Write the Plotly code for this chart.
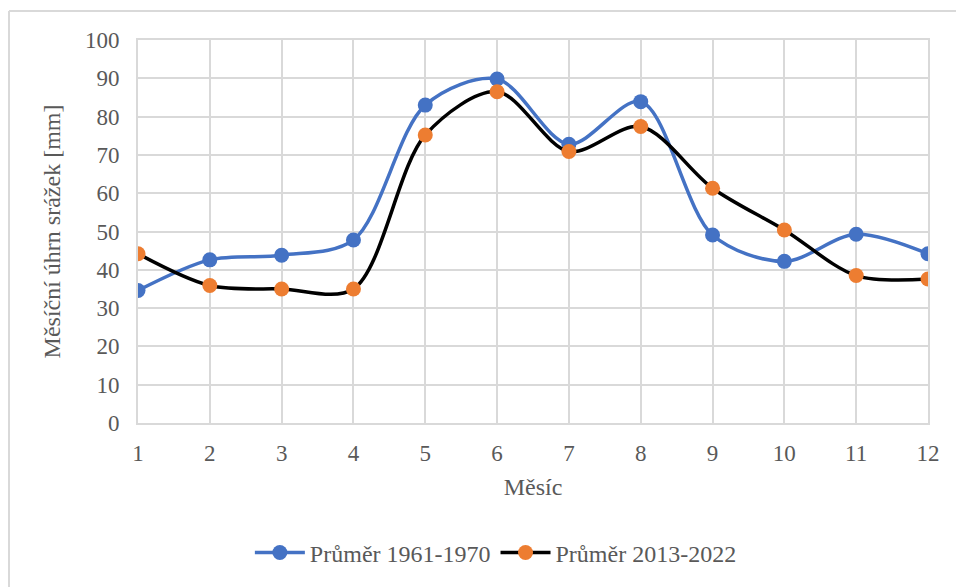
import plotly.graph_objects as go

# Monthly precipitation totals [mm]
months = [1, 2, 3, 4, 5, 6, 7, 8, 9, 10, 11, 12]
avg_1961_1970 = [34.6, 42.6, 43.8, 47.8, 83.0, 89.8, 72.8, 83.9, 49.1, 42.2, 49.3, 44.2]
avg_2013_2022 = [44.2, 35.9, 35.0, 35.0, 75.2, 86.5, 70.9, 77.4, 61.3, 50.4, 38.5, 37.6]

name_a = "Průměr 1961-1970"
name_b = "Průměr 2013-2022"

font_family = "Liberation Serif, Times New Roman, serif"
text_color = "#595959"
grid_color = "#d9d9d9"

fig = go.Figure()
fig.add_trace(go.Scatter(
    x=months, y=avg_1961_1970, name=name_a, mode="lines+markers",
    line=dict(color="#4472C4", width=3.5, shape="spline", smoothing=0.9),
    marker=dict(color="#4472C4", size=15),
))
fig.add_trace(go.Scatter(
    x=months, y=avg_2013_2022, name=name_b, mode="lines+markers",
    line=dict(color="#000000", width=3.5, shape="spline", smoothing=0.9),
    marker=dict(color="#ED7D31", size=15),
))

# light chart-area frame (top and left edges)
fig.add_shape(type="line", xref="paper", yref="paper", x0=-0.1633, x1=1.2, y0=1.0757, y1=1.0757,
              line=dict(color=grid_color, width=2))
fig.add_shape(type="line", xref="paper", yref="paper", x0=-0.1633, x1=-0.1633, y0=1.0757, y1=-0.7,
              line=dict(color=grid_color, width=2))

fig.update_layout(
    width=956, height=587,
    margin=dict(l=138, r=28, t=40, b=164),
    paper_bgcolor="white", plot_bgcolor="white",
    font=dict(family=font_family, color=text_color, size=23),
    showlegend=True,
    legend=dict(orientation="h", x=0.453, xanchor="center", y=-0.339, yanchor="middle",
                font=dict(size=24, color=text_color), itemwidth=50),
    xaxis=dict(
        range=[1, 12], tickmode="array", tickvals=months, ticktext=[str(m) for m in months],
        showgrid=True, gridcolor=grid_color, gridwidth=2,
        showline=True, linecolor=grid_color, linewidth=2, mirror=True,
        zeroline=False, ticks="", ticklabelstandoff=8,
        title=dict(text="Měsíc", font=dict(size=24, color=text_color), standoff=14),
        tickfont=dict(size=23, color=text_color),
    ),
    yaxis=dict(
        range=[0, 100], dtick=10, tick0=0,
        showgrid=True, gridcolor=grid_color, gridwidth=2,
        showline=True, linecolor=grid_color, linewidth=2, mirror=True,
        zeroline=False, ticks="", ticklabelstandoff=12,
        title=dict(text="Měsíční úhrn srážek [mm]", font=dict(size=24, color=text_color), standoff=18),
        tickfont=dict(size=23, color=text_color),
    ),
)

fig.write_html("out.html")
